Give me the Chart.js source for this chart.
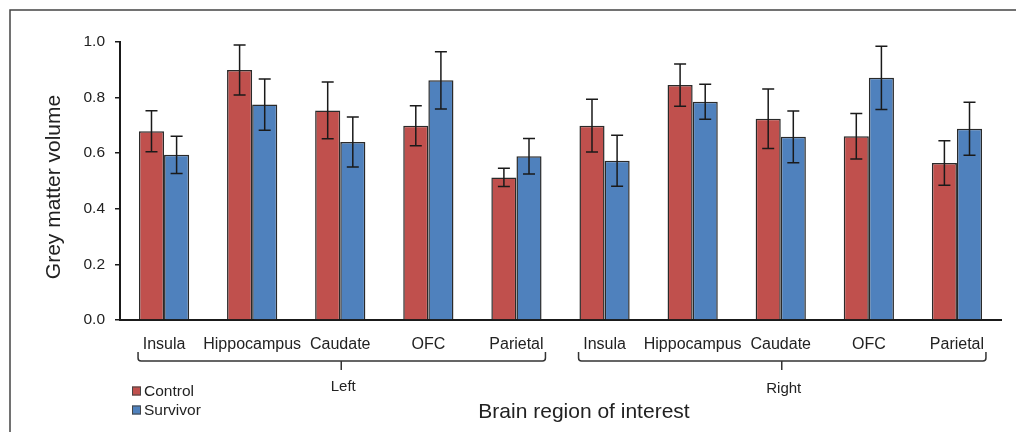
<!DOCTYPE html>
<html>
<head>
<meta charset="utf-8">
<script src="https://cdn.jsdelivr.net/npm/chart.js@4/dist/chart.umd.min.js"></script>
<style>
  html, body { margin: 0; padding: 0; background: #fff; }
  #wrap { width: 1016px; height: 432px; position: relative; }
</style>
</head>
<body>
<div id="wrap"><canvas id="grafico"></canvas></div>
<script>
// --- data ---
const regions = ['Insula', 'Hippocampus', 'Caudate', 'OFC', 'Parietal'];
const hemispheres = ['Left', 'Right'];
const seriesNames = ['Control', 'Survivor'];

// Left hemisphere first, then right
const controlMean  = [0.679, 0.899, 0.754, 0.699, 0.513, 0.699, 0.845, 0.724, 0.661, 0.565];
const controlErr   = [0.074, 0.090, 0.102, 0.072, 0.033, 0.095, 0.076, 0.107, 0.082, 0.080];
const survivorMean = [0.594, 0.775, 0.640, 0.862, 0.589, 0.573, 0.785, 0.659, 0.871, 0.688];
const survivorErr  = [0.067, 0.092, 0.090, 0.103, 0.064, 0.092, 0.063, 0.093, 0.114, 0.095];

const yTicks = [0.0, 0.2, 0.4, 0.6, 0.8, 1.0];

const corControl = '#c0504d';
const corSurvivor = '#4f81bd';
const corTexto = '#222';
const fonte = 'Liberation Sans, Arial, Helvetica, sans-serif';

const labels = [];
hemispheres.forEach(() => regions.forEach(r => labels.push(r)));
const erros = [controlErr, survivorErr];

// plugin: frame, error bars, brackets, titles, legend
const extras = {
  id: 'extras',
  beforeDraw(chart) {
    const ctx = chart.ctx;
    ctx.save();
    ctx.strokeStyle = '#444';
    ctx.lineWidth = 1.5;
    ctx.beginPath();
    ctx.moveTo(10, 432);
    ctx.lineTo(10, 10);
    ctx.lineTo(1016, 10);
    ctx.stroke();
    ctx.restore();
  },
  afterDatasetsDraw(chart) {
    const ctx = chart.ctx;
    const y = chart.scales.y;
    ctx.save();
    ctx.strokeStyle = '#1a1a1a';
    ctx.lineWidth = 1.5;
    chart.data.datasets.forEach((ds, i) => {
      const meta = chart.getDatasetMeta(i);
      meta.data.forEach((bar, j) => {
        const v = ds.data[j], e = erros[i][j];
        const yt = y.getPixelForValue(v + e);
        const yb = y.getPixelForValue(v - e);
        ctx.beginPath();
        ctx.moveTo(bar.x, yt); ctx.lineTo(bar.x, yb);
        ctx.moveTo(bar.x - 6, yt); ctx.lineTo(bar.x + 6, yt);
        ctx.moveTo(bar.x - 6, yb); ctx.lineTo(bar.x + 6, yb);
        ctx.stroke();
      });
    });
    ctx.restore();
  },
  afterDraw(chart) {
    const ctx = chart.ctx;
    const x = chart.scales.x;
    const area = chart.chartArea;
    const base = area.bottom;
    ctx.save();

    // brackets under each hemisphere
    ctx.strokeStyle = '#333';
    ctx.lineWidth = 1.5;
    ctx.fillStyle = corTexto;
    ctx.font = '15px ' + fonte;
    ctx.textAlign = 'center';
    ctx.textBaseline = 'middle';
    hemispheres.forEach((h, k) => {
      const first = k * regions.length;
      const last = first + regions.length - 1;
      const x0 = x.getPixelForValue(first) - 26;
      const x1 = x.getPixelForValue(last) + 29;
      const xm = (x.getPixelForValue(first) + x.getPixelForValue(last)) / 2 + 1;
      const yTop = base + 32, yLine = base + 41, yTick = base + 50;
      ctx.beginPath();
      ctx.moveTo(x0, yTop);
      ctx.lineTo(x0, yLine - 3);
      ctx.quadraticCurveTo(x0, yLine, x0 + 3, yLine);
      ctx.lineTo(x1 - 3, yLine);
      ctx.quadraticCurveTo(x1, yLine, x1, yLine - 3);
      ctx.lineTo(x1, yTop);
      ctx.moveTo(xm, yLine);
      ctx.lineTo(xm, yTick);
      ctx.stroke();
      ctx.fillText(h, xm + 2, base + 67 + k * 1.5);
    });

    // axis titles
    ctx.font = '21px ' + fonte;
    ctx.fillText('Brain region of interest', 584, 412);
    ctx.save();
    ctx.translate(54, 187);
    ctx.rotate(-Math.PI / 2);
    ctx.fillText('Grey matter volume', 0, 0);
    ctx.restore();

    // legend
    ctx.font = '15.5px ' + fonte;
    ctx.textAlign = 'left';
    chart.data.datasets.forEach((ds, i) => {
      const ly = 391 + i * 19;
      ctx.fillStyle = ds.backgroundColor;
      ctx.fillRect(132, ly - 4.5, 9, 9);
      ctx.strokeStyle = '#444';
      ctx.lineWidth = 1;
      ctx.strokeRect(132.5, ly - 4, 8, 8);
      ctx.fillStyle = corTexto;
      ctx.fillText(ds.label, 144, ly + 1);
    });
    ctx.restore();
  }
};

new Chart(document.getElementById('grafico'), {
  type: 'bar',
  data: {
    labels: labels,
    datasets: [
      { label: seriesNames[0], data: controlMean, backgroundColor: corControl,
        borderColor: '#2a2a2a', borderWidth: 1.5 },
      { label: seriesNames[1], data: survivorMean, backgroundColor: corSurvivor,
        borderColor: '#2a2a2a', borderWidth: 1.5 }
    ]
  },
  options: {
    responsive: true,
    maintainAspectRatio: false,
    animation: false,
    categoryPercentage: 0.57,
    barPercentage: 1.0,
    layout: { padding: { left: 0, right: 15, top: 42, bottom: 0 } },
    scales: {
      x: {
        afterFit: s => { s.height = 112; },
        grid: { display: false },
        border: { display: true, color: '#1a1a1a', width: 2 },
        ticks: { color: corTexto, font: { size: 16, family: fonte }, padding: 7,
                 maxRotation: 0, autoSkip: false }
      },
      y: {
        min: 0, max: 1.0,
        afterFit: s => { s.width = 120; },
        afterBuildTicks: s => { s.ticks = yTicks.map(v => ({ value: v })); },
        grid: { drawOnChartArea: false, drawTicks: true, tickLength: 5, color: '#1a1a1a', lineWidth: 1.5 },
        border: { display: true, color: '#1a1a1a', width: 2 },
        ticks: { color: corTexto, font: { size: 15.5, family: fonte }, padding: 10,
                 callback: v => v.toFixed(1) }
      }
    },
    plugins: {
      legend: { display: false },
      tooltip: { enabled: false }
    }
  },
  plugins: [extras]
});
</script>
</body>
</html>
